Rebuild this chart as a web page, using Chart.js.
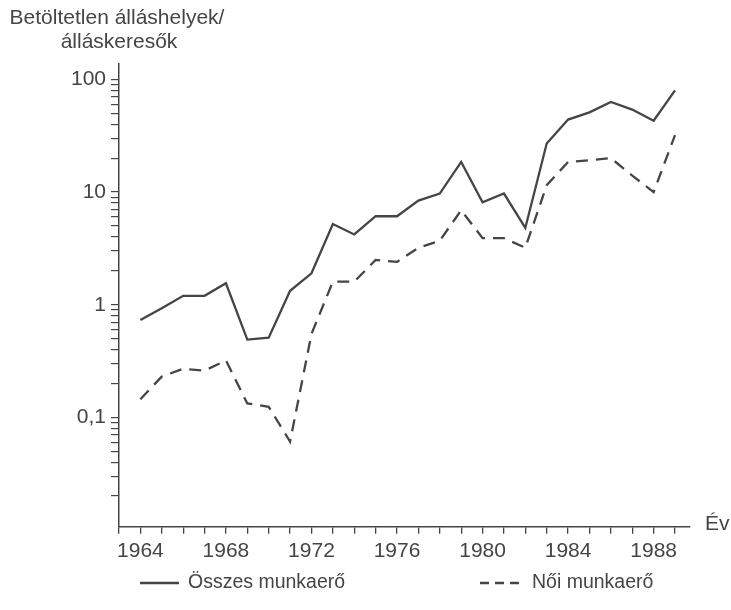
<!DOCTYPE html>
<html>
<head>
<meta charset="utf-8">
<script src="https://cdn.jsdelivr.net/npm/chart.js@4"></script>
<style>
  body { margin: 0; background: #fff; }
  #wrap { width: 731px; height: 610px; }
</style>
</head>
<body>
<div id="wrap"><canvas id="myChart"></canvas></div>
<script>
// data (log scale)
const years = [1964, 1965, 1966, 1967, 1968, 1969, 1970, 1971, 1972, 1973, 1974, 1975, 1976,
               1977, 1978, 1979, 1980, 1981, 1982, 1983, 1984, 1985, 1986, 1987, 1988, 1989];
const osszes = [0.73, 0.93, 1.2, 1.2, 1.55, 0.49, 0.51, 1.33, 1.9, 5.2, 4.2, 6.1, 6.1,
                8.4, 9.7, 18.5, 8.1, 9.7, 4.8, 27, 44, 51, 63, 54, 43, 80];
const noi = [0.145, 0.23, 0.27, 0.26, 0.32, 0.133, 0.124, 0.061, 0.55, 1.6, 1.6, 2.5, 2.4,
             3.2, 3.7, 6.9, 3.9, 3.9, 3.2, 11.5, 18.5, 19.2, 20, 14, 10, 32];
const seriesNames = ["Összes munkaerő", "Női munkaerő"];
const yTickLabels = { "100": "100", "10": "10", "1": "1", "0.1": "0,1" };
const xLabelYears = [1964, 1968, 1972, 1976, 1980, 1984, 1988];
const yTitle = ["Betöltetlen álláshelyek/", "álláskeresők"];
const xTitle = "Év";

const ink = "#454545";
const fontFam = "'Liberation Sans', Arial, sans-serif";

// minor ticks 2..9 in every decade, plus the powers of ten
const yMin = 0.0107, yMax = 137;
const yTicks = [];
for (let k = -2; k <= 2; k++) {
  for (let m = 1; m <= 9; m++) {
    const v = Number((m * Math.pow(10, k)).toPrecision(3));
    if (v >= yMin && v <= yMax) yTicks.push(v);
  }
}
const xTicks = [];
for (let yr = 1963; yr <= 1989; yr++) xTicks.push(yr);

const textPlugin = {
  id: "texts",
  afterDraw(chart) {
    const ctx = chart.ctx;
    ctx.save();
    ctx.fillStyle = ink;
    ctx.font = "21px " + fontFam;
    ctx.textAlign = "center";
    ctx.textBaseline = "middle";
    ctx.fillText(yTitle[0], 117, 18);
    ctx.fillText(yTitle[1], 119, 42);
    ctx.textAlign = "left";
    ctx.fillText(xTitle, 705, 524);

    // legend
    const items = [{ x: 140, tx: 188, dash: [] }, { x: 480, tx: 532, dash: [9, 6] }];
    const ly = 583;
    chart.data.datasets.forEach((ds, i) => {
      const it = items[i];
      ctx.strokeStyle = ds.borderColor;
      ctx.lineWidth = ds.borderWidth;
      ctx.setLineDash(it.dash);
      ctx.beginPath();
      ctx.moveTo(it.x, ly);
      ctx.lineTo(it.x + 39, ly);
      ctx.stroke();
      ctx.setLineDash([]);
      ctx.font = "19.5px " + fontFam;
      ctx.fillText(ds.label, it.tx, ly);
    });
    ctx.restore();
  }
};

const chart = document.querySelector("#myChart");

new Chart(chart, {
  type: "line",
  data: {
    datasets: [
      {
        label: seriesNames[0],
        data: years.map((yr, i) => ({ x: yr, y: osszes[i] })),
        borderColor: ink,
        borderWidth: 2.3,
        pointRadius: 0,
        tension: 0
      },
      {
        label: seriesNames[1],
        data: years.map((yr, i) => ({ x: yr, y: noi[i] })),
        borderColor: ink,
        borderWidth: 2.3,
        borderDash: [12, 8],
        pointRadius: 0,
        tension: 0
      }
    ]
  },
  options: {
    responsive: true,
    maintainAspectRatio: false,
    animation: false,
    layout: { padding: { top: 64, right: 41, bottom: 0, left: 0 } },
    plugins: {
      legend: { display: false },
      tooltip: { enabled: false }
    },
    scales: {
      x: {
        type: "linear",
        min: 1963,
        max: 1989.7,
        border: { color: ink, width: 1.5 },
        grid: { drawOnChartArea: false, tickLength: 7, color: ink, lineWidth: 1.3 },
        ticks: {
          autoSkip: false,
          maxRotation: 0,
          padding: 5,
          color: ink,
          font: { family: fontFam, size: 21 },
          callback: v => (xLabelYears.includes(v) ? String(v) : "")
        },
        afterBuildTicks: s => { s.ticks = xTicks.map(v => ({ value: v })); },
        afterFit: s => { s.height = 610 - 526.7; }
      },
      y: {
        type: "logarithmic",
        min: yMin,
        max: yMax,
        border: { color: ink, width: 1.5 },
        grid: { drawOnChartArea: false, tickLength: 8, color: ink, lineWidth: 1.2 },
        ticks: {
          autoSkip: false,
          padding: 5,
          color: ink,
          font: { family: fontFam, size: 21 },
          callback: v => yTickLabels[String(v)] || ""
        },
        afterBuildTicks: s => { s.ticks = yTicks.map(v => ({ value: v })); },
        afterFit: s => { s.width = 119; }
      }
    }
  },
  plugins: [textPlugin]
});
</script>
</body>
</html>
